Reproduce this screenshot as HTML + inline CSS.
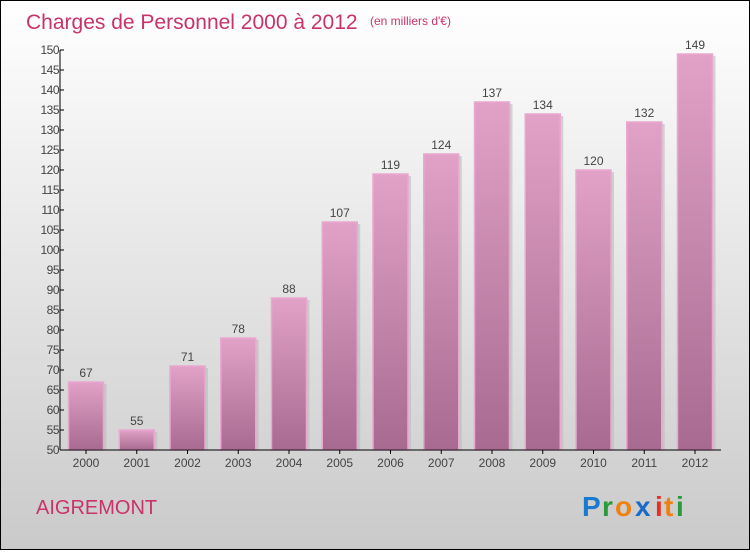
<!DOCTYPE html>
<html><head><meta charset="utf-8"><style>
body{margin:0}
#c{position:relative;width:750px;height:550px;font-family:"Liberation Sans",sans-serif}
</style></head><body>
<div id="c">
<svg id="s" width="750" height="550" xmlns="http://www.w3.org/2000/svg">
<defs>
<linearGradient id="bg" x1="0" y1="0" x2="0" y2="1"><stop offset="0" stop-color="#ffffff"/><stop offset="1" stop-color="#cacaca"/></linearGradient>
<linearGradient id="bar" x1="0" y1="0" x2="0" y2="1"><stop offset="0" stop-color="#e2a2c8"/><stop offset="1" stop-color="#a86a90"/></linearGradient>
</defs>
<rect x="0.5" y="0.5" width="749" height="549" fill="url(#bg)" stroke="#000"/>
<text x="26" y="29" font-size="21" fill="#c8336a">Charges de Personnel 2000 à 2012</text>
<text x="370" y="25" font-size="12" fill="#c8336a">(en milliers d'€)</text>
<text x="36" y="514" font-size="20" fill="#c8336a">AIGREMONT</text>
<g font-size="28" font-weight="bold">
<text x="582" y="516" fill="#1a7ad0">P</text><text x="602" y="516" fill="#2a9a3a">r</text><text x="615" y="516" fill="#f08010">o</text><text x="635" y="516" fill="#1a6ac8">x</text><text x="655" y="516" fill="#e83020">i</text><text x="664" y="516" fill="#f08010">t</text><text x="676" y="516" fill="#2a9a3a">i</text>
</g>
<g id="plot"></g>
</svg>
</div>
<script>
const categories=["2000","2001","2002","2003","2004","2005","2006","2007","2008","2009","2010","2011","2012"];
const values=[67,55,71,78,88,107,119,124,137,134,120,132,149];
const yTicks=[50,55,60,65,70,75,80,85,90,95,100,105,110,115,120,125,130,135,140,145,150];
const NS="http://www.w3.org/2000/svg";
const g=document.getElementById('plot');
const y=v=>450-(v-50)*4;
const x=i=>86+i*50.75;
function mk(t,a,p){const e=document.createElementNS(NS,t);for(const k in a)e.setAttribute(k,a[k]);(p||g).appendChild(e);return e;}
values.forEach((v,i)=>{
 const sh=mk('rect',{x:x(i)-17.5+3,y:y(v)+2,width:35,height:450-y(v)-2,fill:'#bbb',opacity:0.6});
 
 
 const r=mk('rect',{x:x(i)-17.5,y:y(v),width:35,height:450-y(v),fill:'url(#bar)',stroke:'#eaa8d0','stroke-width':1.5});
 
 
 const t=mk('text',{x:x(i),y:y(v)-5,'font-size':12,fill:'#444','text-anchor':'middle'});
 t.textContent=v;
 
 
 const c=mk('text',{x:x(i),y:467,'font-size':12,fill:'#444','text-anchor':'middle'});
 c.textContent=categories[i];
 
 
 const tk=mk('line',{x1:x(i),x2:x(i),y1:450,y2:454,stroke:'#000'});
 
 
});
yTicks.forEach(v=>{
 const l=mk('line',{x1:60,x2:64,y1:y(v),y2:y(v),stroke:'#000'});
 
 
 const t=mk('text',{x:59,y:y(v)+4,'font-size':12,fill:'#444','text-anchor':'end','letter-spacing':'-0.5'});
 t.textContent=v;
 
 
});
const ya=mk('line',{x1:60,x2:60,y1:50,y2:450,stroke:'#000'});


const xa=mk('line',{x1:60,x2:721,y1:450,y2:450,stroke:'#000'});


</script>
</body></html>
